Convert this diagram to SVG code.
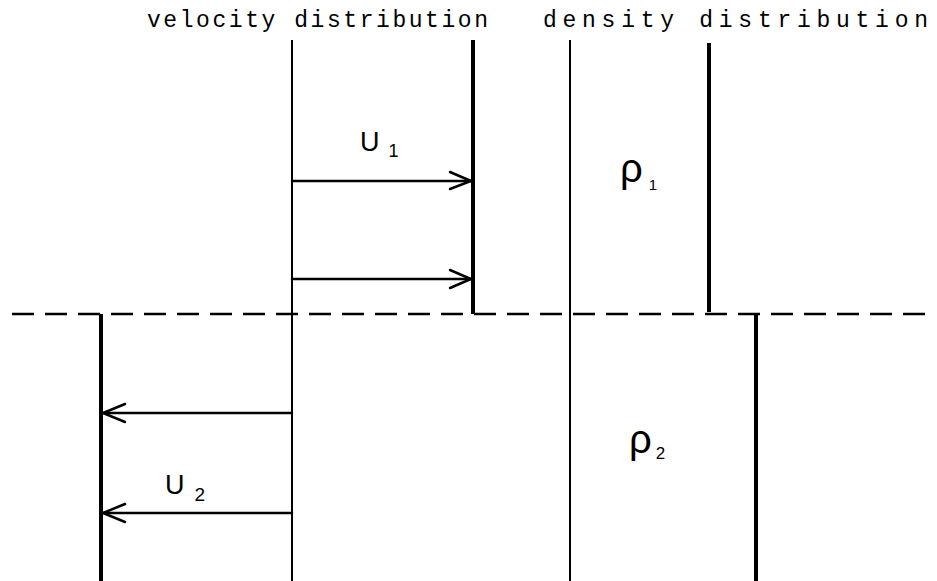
<svg xmlns="http://www.w3.org/2000/svg" width="937" height="581" viewBox="0 0 937 581">
<style>
.thin{stroke:#000;stroke-width:2;fill:none}
.thick{stroke:#000;stroke-width:4;fill:none}
.arr{stroke:#000;stroke-width:2.5;fill:none;stroke-linecap:round}
.title{font-family:"Liberation Mono",monospace;font-size:23px;fill:#000}
.sym{font-family:"Liberation Sans",Arial,sans-serif;fill:#000}
</style>
<rect width="937" height="581" fill="#fff"/>
<g id="titles">
<text class="title" x="147" y="27" textLength="341" lengthAdjust="spacing">velocity distribution</text>
<text class="title" x="543" y="27" textLength="385" lengthAdjust="spacing" fill="#444">density distribution</text>
</g>
<g id="interface">
<line x1="12" y1="314" x2="930" y2="314" stroke="#000" stroke-width="2.5" stroke-dasharray="22 11"/>
</g>
<g id="velocity-axis"><line class="thin" x1="292" y1="40" x2="292" y2="581"/></g>
<g id="upper-velocity"><line class="thick" x1="473" y1="40" x2="473" y2="314"/></g>
<g id="lower-velocity"><line class="thick" x1="101" y1="314" x2="101" y2="581"/></g>
<g id="density-axis"><line class="thin" x1="570" y1="40" x2="570" y2="581"/></g>
<g id="upper-density"><line class="thick" x1="709" y1="43" x2="709" y2="312"/></g>
<g id="lower-density"><line class="thick" x1="756" y1="314" x2="756" y2="581"/></g>
<g id="connectors">
<line class="arr" x1="292" y1="181" x2="471" y2="181"/>
<polyline class="arr" points="450,172 471,181 450,189"/>
<line class="arr" x1="292" y1="279" x2="471" y2="279"/>
<polyline class="arr" points="450,270 471,279 450,288"/>
<line class="arr" x1="292" y1="413" x2="103" y2="413"/>
<polyline class="arr" points="125,404 103,413 125,422"/>
<line class="arr" x1="292" y1="513" x2="103" y2="513"/>
<polyline class="arr" points="125,504 103,513 125,522"/>
</g>
<g id="labels">
<text class="sym" x="360" y="151" font-size="27">U<tspan font-size="18" dx="9" dy="6">1</tspan></text>
<text class="sym" x="165" y="494" font-size="27">U<tspan font-size="19" dx="10" dy="7">2</tspan></text>
<text class="sym" x="620" y="182" font-size="40">ρ<tspan font-size="15" dx="6" dy="8">1</tspan></text>
<text class="sym" x="629" y="453" font-size="40">ρ<tspan font-size="17" dx="4" dy="6">2</tspan></text>
</g>
</svg>
